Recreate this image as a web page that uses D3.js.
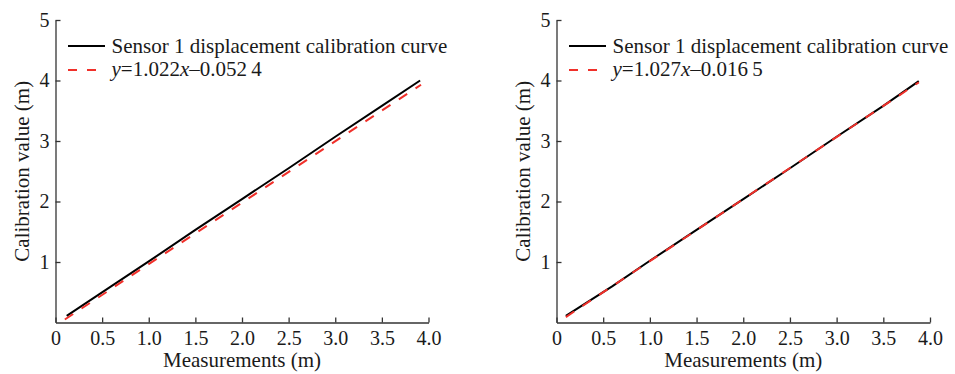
<!DOCTYPE html>
<html>
<head>
<meta charset="utf-8">
<script src="https://cdn.jsdelivr.net/npm/d3@7/dist/d3.min.js"></script>
<style>
  html, body { margin: 0; padding: 0; background: #fff; }
  svg { display: block; }
  text { font-family: "Liberation Serif", "Times New Roman", serif; fill: #1a1a1a; }
</style>
</head>
<body>
<svg id="chart" width="955" height="374"></svg>
<script>
// ---- Data ----
const xTicks = [0, 0.5, 1.0, 1.5, 2.0, 2.5, 3.0, 3.5, 4.0];
const yTicks = [1, 2, 3, 4, 5];

// Left panel
const leftMeasured  = [0.12, 0.6, 1.0, 1.5, 2.0, 2.5, 3.0, 3.5, 3.91];
const leftCalib     = [0.11, 0.60, 1.01, 1.53, 2.04, 2.55, 3.07, 3.58, 4.00];
const leftFitX      = [0.10, 3.92];
const leftFitY      = [0.05, 3.93];
const leftFitLabel  = ["1.022", "0.052\u20094"];

// Right panel
const rightMeasured = [0.10, 0.6, 1.0, 1.5, 2.0, 2.5, 3.0, 3.5, 3.88];
const rightCalib    = [0.11, 0.60, 1.02, 1.53, 2.04, 2.55, 3.07, 3.58, 3.99];
const rightFitX     = [0.10, 3.88];
const rightFitY     = [0.09, 3.97];
const rightFitLabel = ["1.027", "0.016\u20095"];

const seriesName = "Sensor 1 displacement calibration curve";
const xTitle = "Measurements (m)";
const yTitle = "Calibration value (m)";

const svg = d3.select("#chart");

function panel(left, right, mx, cy, fx, fy, fitLabel) {
  const x = d3.scaleLinear().domain([0, 4]).range([left, right]);
  const y = d3.scaleLinear().domain([0, 5]).range([322.5, 20]);
  const g = svg.append("g");

  // axes
  const xAxis = d3.axisBottom(x).tickValues(xTicks)
    .tickFormat(d => d === 0 ? "0" : d3.format(".1f")(d))
    .tickSizeInner(-5).tickSizeOuter(0).tickPadding(8);
  const gx = g.append("g").attr("transform", `translate(0,${y(0)})`).call(xAxis);
  const yAxis = d3.axisLeft(y).tickValues(yTicks).tickFormat(d3.format("d"))
    .tickSizeInner(-5).tickSizeOuter(0).tickPadding(6);
  const gy = g.append("g").attr("transform", `translate(${x(0)},0)`).call(yAxis);
  [gx, gy].forEach(a => {
    a.selectAll("path, line").attr("stroke", "#333").attr("stroke-width", 1.3);
    a.selectAll("text").attr("font-size", 20).attr("fill", "#1a1a1a")
      .attr("font-family", '"Liberation Serif", serif');
  });

  // titles
  g.append("text").attr("x", (left + right) / 2).attr("y", 367)
    .attr("text-anchor", "middle").attr("font-size", 21).text(xTitle);
  g.append("text").attr("transform", `translate(${x(0) - 26.5},${(y(0) + y(5)) / 2}) rotate(-90)`)
    .attr("text-anchor", "middle").attr("font-size", 21).text(yTitle);

  // lines
  const line = d3.line().x(d => x(d[0])).y(d => y(d[1]));
  g.append("path").datum(d3.zip(mx, cy)).attr("d", line)
    .attr("fill", "none").attr("stroke", "#000").attr("stroke-width", 2);
  g.append("path").datum(d3.zip(fx, fy)).attr("d", line)
    .attr("fill", "none").attr("stroke", "#f0302a").attr("stroke-width", 2)
    .attr("stroke-dasharray", "10,10");

  // legend
  const lx0 = left + 12.5, lx1 = left + 49.5, tx = left + 56;
  g.append("line").attr("x1", lx0).attr("x2", lx1).attr("y1", 46).attr("y2", 46)
    .attr("stroke", "#000").attr("stroke-width", 2);
  g.append("text").attr("x", tx).attr("y", 52.5).attr("font-size", 21).text(seriesName);
  g.append("line").attr("x1", lx0).attr("x2", lx1 - 8).attr("y1", 70).attr("y2", 70)
    .attr("stroke", "#f0302a").attr("stroke-width", 2).attr("stroke-dasharray", "9,10");
  const t = g.append("text").attr("x", tx).attr("y", 76).attr("font-size", 21);
  t.append("tspan").attr("font-style", "italic").text("y");
  t.append("tspan").text("=" + fitLabel[0]);
  t.append("tspan").attr("font-style", "italic").text("x");
  t.append("tspan").text("\u2013" + fitLabel[1]);
}

panel(55.5, 428.5, leftMeasured, leftCalib, leftFitX, leftFitY, leftFitLabel);
panel(556.5, 930, rightMeasured, rightCalib, rightFitX, rightFitY, rightFitLabel);
</script>
</body>
</html>
